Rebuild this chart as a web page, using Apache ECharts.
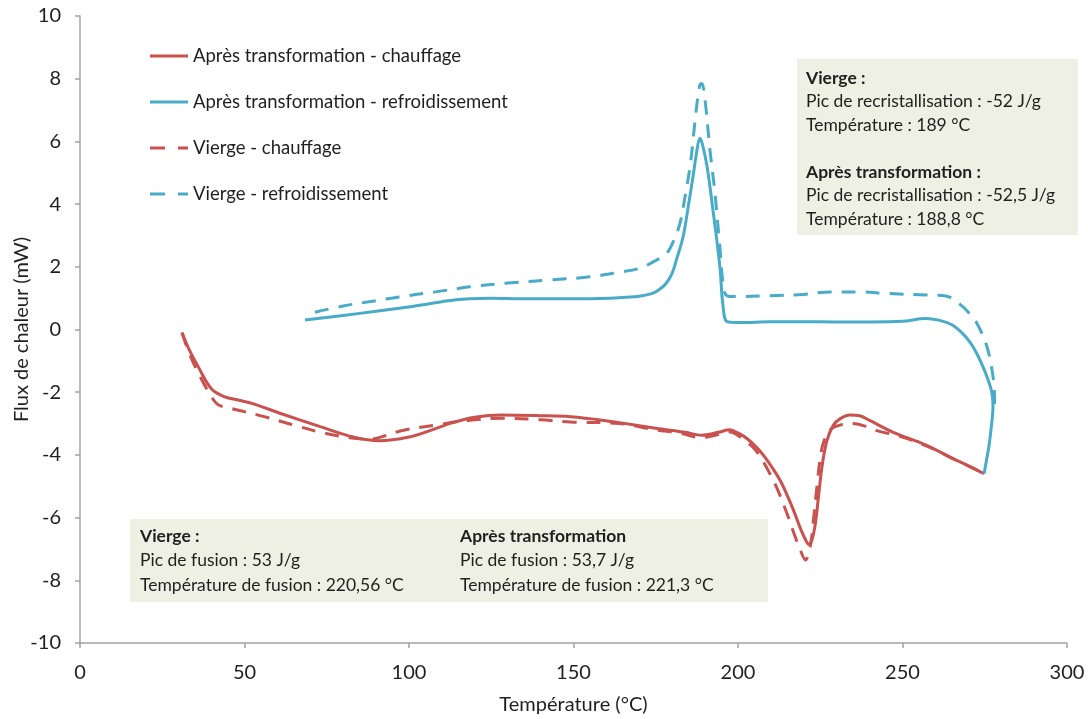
<!DOCTYPE html>
<html>
<head>
<meta charset="utf-8">
<script src="https://cdn.jsdelivr.net/npm/echarts@6/dist/echarts.min.js"></script>
<style>
  html, body { margin: 0; padding: 0; background: #fff; }
  #chart { width: 1088px; height: 719px; }
</style>
</head>
<body>
<div id="chart"></div>
<script>
// DSC thermograms: heat flow (mW) vs temperature (°C)
const seriesNames = [
  'Après transformation - chauffage',
  'Après transformation - refroidissement',
  'Vierge - chauffage',
  'Vierge - refroidissement'
];

const xTicks = { min: 0, max: 300, interval: 50 };
const yTicks = { min: -10, max: 10, interval: 2 };

// [température, flux]
const apresChauffage = [
  [31,-0.1],[33,-0.6],[36,-1.2],[40,-1.9],[44,-2.15],[48,-2.25],[53,-2.38],[61,-2.68],
  [73,-3.1],[83,-3.43],[91,-3.55],[100,-3.43],[107,-3.2],[113,-2.98],[120,-2.8],[128,-2.73],
  [140,-2.75],[149,-2.78],[157,-2.87],[164,-2.97],[175,-3.15],[184,-3.28],[189,-3.37],
  [194,-3.28],[197.5,-3.2],[200,-3.3],[203,-3.5],[206,-3.8],[208,-4.05],[211,-4.5],[213,-4.85],
  [215,-5.3],[217,-5.8],[219,-6.35],[220.5,-6.7],[221.5,-6.85],[222.5,-6.7],[223.5,-6.2],
  [224.5,-5.3],[225.5,-4.4],[227,-3.55],[229,-3.05],[231,-2.85],[234,-2.73],[237,-2.75],
  [240,-2.9],[247,-3.27],[257,-3.68],[265,-4.1],[270,-4.35],[274.8,-4.6]
];

const apresRefroid = [
  [68.4,0.3],[80,0.45],[90,0.58],[97,0.68],[105,0.8],[112,0.92],[118.5,0.98],[125,1.0],
  [135,0.98],[150,0.98],[161,1.0],[166,1.03],[170,1.06],[174,1.15],[176,1.27],[178,1.45],
  [180,1.8],[181.5,2.3],[183.3,2.95],[185,4.0],[186.3,4.86],[187.5,5.7],[188.4,6.1],
  [189.2,5.9],[190.6,5.2],[192.4,3.8],[194.5,2.0],[195.4,0.8],[196.7,0.25],[200.6,0.22],
  [210,0.25],[220,0.25],[230,0.24],[240,0.24],[250,0.26],[257,0.35],[261,0.3],[265,0.15],
  [268,-0.1],[270.5,-0.4],[272.5,-0.75],[274.5,-1.2],[276,-1.6],[277.2,-2.03],[277.5,-2.47],
  [277,-3.1],[276.3,-3.7],[275,-4.48],[274.8,-4.6]
];

const viergeChauffage = [
  [31,-0.1],[33,-0.7],[36,-1.4],[40,-2.15],[42,-2.4],[46,-2.52],[56,-2.78],[65,-3.05],
  [74,-3.3],[82,-3.45],[88,-3.5],[93,-3.38],[98,-3.22],[108,-3.05],[118,-2.9],[128,-2.83],
  [140,-2.88],[149,-2.95],[164,-3.0],[175,-3.2],[182,-3.3],[189,-3.45],[194,-3.35],
  [197.5,-3.27],[201,-3.45],[204.5,-3.75],[207,-4.1],[209.7,-4.6],[212,-5.1],[215,-5.9],
  [217,-6.5],[219,-7.05],[220.5,-7.35],[222,-6.9],[223,-6.0],[224,-5.0],[225,-4.1],
  [226,-3.6],[228,-3.2],[231,-3.05],[235,-3.0],[239,-3.1],[243,-3.25],[249,-3.4],
  [257,-3.7],[265,-4.1],[270,-4.35],[274.8,-4.6]
];

const viergeRefroid = [
  [71.4,0.55],[80,0.75],[90,0.92],[97,1.04],[108,1.2],[118.5,1.36],[130,1.48],[143,1.58],
  [155,1.68],[164,1.83],[170,1.95],[175,2.2],[178.4,2.44],[180.5,2.85],[182.4,3.4],[184,4.3],
  [185.4,5.18],[186.3,6.0],[187.3,7.0],[188.4,7.8],[189,7.85],[190,7.3],[191.5,5.7],
  [193,4.35],[194.5,2.63],[196,1.16],[198,1.05],[200.6,1.05],[210,1.08],[220,1.12],
  [228,1.2],[237,1.2],[245,1.15],[257,1.1],[263.5,1.06],[267.5,0.8],[270,0.55],[272.6,0.2],
  [275.7,-0.56],[277.5,-1.5],[278,-2.35],[277.6,-2.7]
];

// annotation texts
const boxTopLines = [
  { t: 'Vierge :', b: true },
  { t: 'Pic de recristallisation : -52 J/g' },
  { t: 'Température : 189 °C' },
  { t: '' },
  { t: 'Après transformation :', b: true },
  { t: 'Pic de recristallisation : -52,5 J/g' },
  { t: 'Température : 188,8 °C' }
];
const boxBottomLeft = [
  { t: 'Vierge :', b: true },
  { t: 'Pic de fusion : 53 J/g' },
  { t: 'Température de fusion : 220,56 °C' }
];
const boxBottomRight = [
  { t: 'Après transformation', b: true },
  { t: 'Pic de fusion : 53,7 J/g' },
  { t: 'Température de fusion : 221,3 °C' }
];

const RED = '#c9514e';
const BLUE = '#48abc8';
const FONT = 'Lato, "Open Sans", sans-serif';
const BOX_FILL = '#edf0e2';
const TEXT = '#1f1f1f';

// legend keys: a full bar for solid lines, a long + short dash for dashed ones
const ICON_SOLID = 'path://M0,0H38V3H0Z';
const ICON_DASHED = 'path://M0,0H15V3H0Z M28,0H38V3H28Z';

function textLines(lines, x, yCenter0, step) {
  return lines.map((l, i) => ({
    type: 'text',
    x: x,
    y: yCenter0 + i * step,
    style: {
      text: l.t,
      fontFamily: FONT,
      fontSize: 17.5,
      fontWeight: l.b ? 'bold' : 'normal',
      fill: TEXT,
      verticalAlign: 'middle',
      align: 'left'
    },
    z: 10
  }));
}

const chart = echarts.init(document.getElementById('chart'), null, { renderer: 'canvas' });

function lineSeries(name, data, color, dashed) {
  return {
    name: name,
    type: 'line',
    data: data,
    smooth: 0.35,
    showSymbol: false,
    symbol: 'none',
    lineStyle: { color: color, width: 3, type: dashed ? [14, 10] : 'solid' },
    itemStyle: { color: color },
    z: dashed ? 3 : 4
  };
}

chart.setOption({
  animation: false,
  backgroundColor: '#ffffff',
  grid: { left: 80, right: 21, top: 16, bottom: 76, containLabel: false, outerBoundsMode: 'none' },
  legend: {
    orient: 'vertical',
    left: 145,
    top: 41,
    itemWidth: 38,
    itemHeight: 3,
    itemGap: 26,
    textStyle: { fontFamily: FONT, fontSize: 18.5, color: TEXT, lineHeight: 20 },
    data: [
      { name: seriesNames[0], icon: ICON_SOLID },
      { name: seriesNames[1], icon: ICON_SOLID },
      { name: seriesNames[2], icon: ICON_DASHED },
      { name: seriesNames[3], icon: ICON_DASHED }
    ]
  },
  xAxis: {
    type: 'value',
    min: xTicks.min, max: xTicks.max, interval: xTicks.interval,
    name: 'Température (°C)',
    nameLocation: 'middle',
    nameGap: 52,
    nameMoveOverlap: false,
    nameTextStyle: { fontFamily: FONT, fontSize: 20, color: TEXT },
    axisLine: { onZero: false, lineStyle: { color: '#a3a3a3', width: 1.5 } },
    axisTick: { show: true, length: 5, lineStyle: { color: '#a3a3a3', width: 1.5 } },
    axisLabel: { fontFamily: FONT, fontSize: 20, color: TEXT, margin: 20 },
    splitLine: { show: false }
  },
  yAxis: {
    type: 'value',
    min: yTicks.min, max: yTicks.max, interval: yTicks.interval,
    name: 'Flux de chaleur (mW)',
    nameLocation: 'middle',
    nameGap: 48,
    nameMoveOverlap: false,
    nameTextStyle: { fontFamily: FONT, fontSize: 20, color: TEXT },
    axisLine: { show: true, onZero: false, lineStyle: { color: '#a3a3a3', width: 1.5 } },
    axisTick: { show: true, length: 5, lineStyle: { color: '#a3a3a3', width: 1.5 } },
    axisLabel: { fontFamily: FONT, fontSize: 20, color: TEXT, margin: 19 },
    splitLine: { show: false }
  },
  series: [
    lineSeries(seriesNames[0], apresChauffage, RED, false),
    lineSeries(seriesNames[1], apresRefroid, BLUE, false),
    lineSeries(seriesNames[2], viergeChauffage, RED, true),
    lineSeries(seriesNames[3], viergeRefroid, BLUE, true)
  ],
  graphic: [
    {
      type: 'rect',
      shape: { x: 797, y: 59, width: 281, height: 176 },
      style: { fill: BOX_FILL },
      z: 1
    },
    {
      type: 'rect',
      shape: { x: 130, y: 519, width: 638, height: 83 },
      style: { fill: BOX_FILL },
      z: 1
    },
    ...textLines(boxTopLines, 806, 78, 23.5),
    ...textLines(boxBottomLeft, 140, 536, 24.5),
    ...textLines(boxBottomRight, 460, 536, 24.5)
  ]
});
</script>
</body>
</html>
